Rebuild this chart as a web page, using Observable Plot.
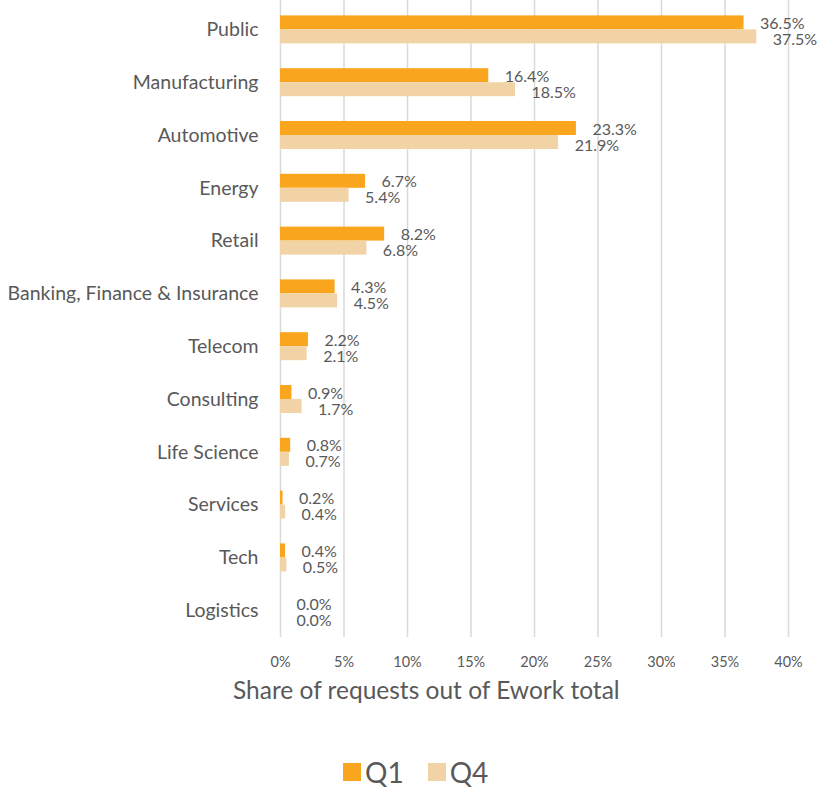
<!DOCTYPE html>
<html>
<head>
<meta charset="utf-8">
<script src="https://cdn.jsdelivr.net/npm/d3@7"></script>
<script src="https://cdn.jsdelivr.net/npm/@observablehq/plot@0.6"></script>
<style>
  body { margin: 0; background: #fff; font-family: Lato, "Open Sans", sans-serif; color: #595959; }
  #wrap { width: 820px; }
  .xtitle { width: 820px; text-align: left; padding-left: 233px; box-sizing: border-box; font-size: 24.5px; line-height: 26px; margin-top: -3px; color: #595959; }
  .legend { display: flex; justify-content: flex-start; padding-left: 343px; margin-top: 54px; font-size: 28px; line-height: 30px; align-items: center; color: #595959; }
  .sw { display: inline-block; width: 18px; height: 18px; margin-right: 4px; }
  .item { display: flex; align-items: center; margin-right: 24px; }
</style>
</head>
<body>
<div id="wrap"></div>
<script>
const categories = ["Public", "Manufacturing", "Automotive", "Energy", "Retail", "Banking, Finance & Insurance", "Telecom", "Consulting", "Life Science", "Services", "Tech", "Logistics"];
const q1 = [36.5, 16.4, 23.3, 6.7, 8.2, 4.3, 2.2, 0.9, 0.8, 0.2, 0.4, 0.0];
const q4 = [37.5, 18.5, 21.9, 5.4, 6.8, 4.5, 2.1, 1.7, 0.7, 0.4, 0.5, 0.0];
const xTicks = [0, 0.05, 0.10, 0.15, 0.20, 0.25, 0.30, 0.35, 0.40];
const series = ["Q1", "Q4"];
const colors = ["#F9A61E", "#F1D3A6"];

const d1 = categories.map((c, i) => ({cat: c, v: q1[i] / 100}));
const d4 = categories.map((c, i) => ({cat: c, v: q4[i] / 100}));
const fmt = d => (d.v * 100).toFixed(1) + "%";
const textCol = "#595959";

const chart = Plot.plot({
  width: 820,
  height: 680,
  marginLeft: 280,
  marginRight: 32,
  marginTop: 0,
  marginBottom: 43,
  style: {fontFamily: "Lato, 'Open Sans', sans-serif", color: textCol, background: "#fff"},
  x: {domain: [0, 0.40], ticks: xTicks, tickFormat: d => Math.round(d * 100) + "%", label: null},
  y: {domain: categories, range: [3, 636.6], paddingInner: 0.47, paddingOuter: 0.235, round: false, label: null},
  marks: [
    Plot.gridX(xTicks, {stroke: "#D9D9D9", strokeOpacity: 1, strokeWidth: 1.5}),
    Plot.barX(d1, {x: "v", y: "cat", fill: colors[0], insetBottom: 14}),
    Plot.barX(d4, {x: "v", y: "cat", fill: colors[1], insetTop: 14}),
    Plot.text(d1, {x: "v", y: "cat", text: fmt, dx: 16, dy: -6, textAnchor: "start", fontSize: 16, fill: textCol}),
    Plot.text(d4, {x: "v", y: "cat", text: fmt, dx: 16, dy: 10, textAnchor: "start", fontSize: 16, fill: textCol}),
    Plot.axisX(xTicks, {tickSize: 0, tickPadding: 19, fontSize: 14.5, fill: textCol, tickFormat: d => Math.round(d * 100) + "%", label: null}),
    Plot.axisY({tickSize: 0, tickPadding: 22, fontSize: 19.5, fill: textCol, label: null})
  ]
});

const wrap = document.getElementById("wrap");
wrap.appendChild(chart);
const t = document.createElement("div");
t.className = "xtitle";
t.textContent = "Share of requests out of Ework total";
wrap.appendChild(t);
const lg = document.createElement("div");
lg.className = "legend";
series.forEach((s, i) => {
  const it = document.createElement("span");
  it.className = "item";
  const sw = document.createElement("span");
  sw.className = "sw";
  sw.style.background = colors[i];
  it.appendChild(sw);
  it.appendChild(document.createTextNode(s));
  lg.appendChild(it);
});
wrap.appendChild(lg);
</script>
</body>
</html>
